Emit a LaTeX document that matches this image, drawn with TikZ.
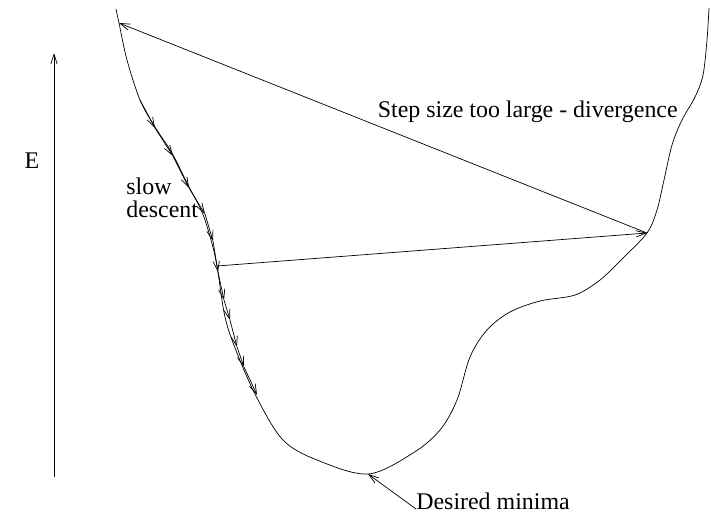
\documentclass[tikz,border=0pt]{standalone}
\usepackage{fontspec}
\setmainfont{Liberation Serif}
\usepackage{tikz}
\usetikzlibrary{arrows.meta,positioning,calc}

\begin{document}
\begin{tikzpicture}[x=0.025cm,y=-0.025cm,line width=0.5pt,
  >={Straight Barb[length=7pt,width=4.5pt]},
  font=\fontsize{17}{16.3}\selectfont]
\useasboundingbox (0,0) rectangle (711,513);
% energy axis
\coordinate (Ebot) at (54,477);
\coordinate (Etop) at (54,53);
\draw[->] (Ebot) -- (Etop);
\node (E) at (32,161) {E};
% error surface
\draw plot[smooth,tension=0.55] coordinates {(116,9) (119,23) (127,60) (140,100) (155,127) (172,153) (188,185) (202,212) (211,240) (217,266) (225,317) (237,353) (257,398) (283,440) (317,460) (368,474) (413,453) (440,430) (457,400) (470,357) (487,330) (510,312) (540,301) (575,295) (600,280) (623,258) (647,233) (657,210) (664,180) (672,145) (682,120) (695,97) (703,75) (707,40) (709,8)};
% slow descent
\foreach \n/\px/\py in {0/140/100,1/155/128,2/173/156,3/189/188,4/205/214,5/213/241,6/218/272,7/224/300,8/230/320,9/237/347,10/244/367,11/257/395}
  \coordinate (s\n) at (\px,\py);
\foreach \k/\m in {0/1,1/2,2/3,3/4,4/5,5/6,6/7,7/8,8/9,9/10,10/11}
  \draw[->] (s\k) -- (s\m);
\node[align=left,anchor=base west,inner sep=0pt] (slow) at (126,217) {slow\\descent};
% divergence
\coordinate (p0) at (217,266);
\coordinate (p1) at (647,233);
\coordinate (p2) at (119,23);
\draw[->] (p0) -- (p1);
\draw[->] (p1) -- (p2);
\node[anchor=base east,inner sep=0pt] (div) at (678,117) {Step size too large - divergence};
% minimum
\coordinate (min) at (368,474);
\node[anchor=base west,inner sep=0pt] (des) at (416,509) {Desired minima};
\draw[->] (des.base west) -- (min);
\end{tikzpicture}
\end{document}
